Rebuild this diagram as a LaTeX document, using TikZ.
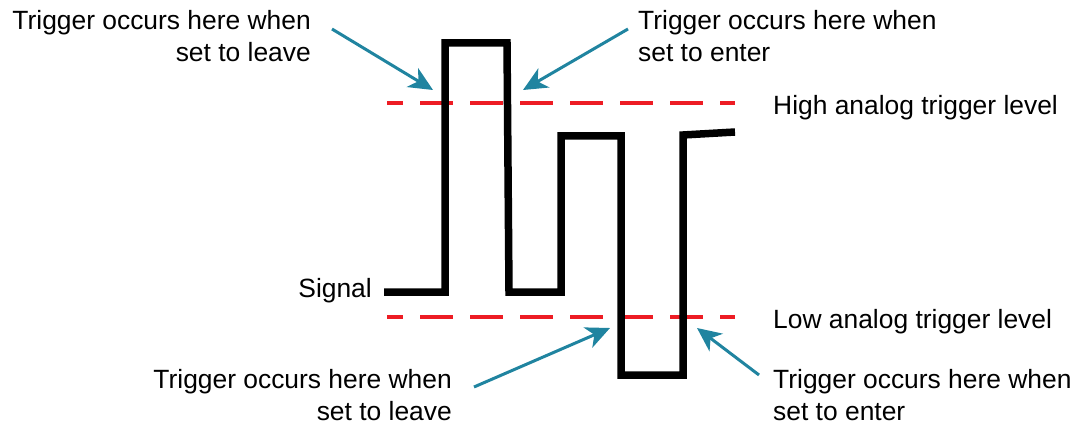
\documentclass[tikz,border=0pt]{standalone}
\usepackage{fontspec}
\setmainfont{Liberation Sans}
\usetikzlibrary{arrows.meta}
\definecolor{sigteal}{RGB}{32,132,160}
\definecolor{lvlred}{RGB}{237,28,36}
\begin{document}
\begin{tikzpicture}[x=1pt,y=-1pt,
  lbl/.style={inner sep=0pt,font=\fontsize{26.4}{32}\selectfont},
  level/.style={draw=lvlred,line width=4.5pt,dash pattern=on 33pt off 17pt,dash phase=17pt},
  signal/.style={draw=black,line width=7.5pt,line join=miter},
  pointer/.style={draw=sigteal,line width=3pt,-{Stealth[length=24pt,width=22pt,inset=7pt]}}]
\useasboundingbox (0,0) rectangle (1084,425);
% levels
\coordinate (hA) at (387,103); \coordinate (hB) at (735,103);
\coordinate (lA) at (387,317); \coordinate (lB) at (735,317);
\draw[level] (hA) -- (hB);
\draw[level] (lA) -- (lB);
% signal
\coordinate (s0) at (384,292);
\draw[signal] (s0) -- (445,292) -- (445,43) -- (507,43) -- (509,292) -- (561,292) -- (561,136) -- (621,136) -- (621,375) -- (683,375) -- (683,135) -- (735,132);
% labels
\node[lbl,anchor=base east,align=right] (tl) at (311,62) {Trigger occurs here when\\set to leave};
\node[lbl,anchor=base west,align=left] (tr) at (638,62) {Trigger occurs here when\\set to enter};
\node[lbl,anchor=base east,align=right] (bl) at (452,420) {Trigger occurs here when\\set to leave};
\node[lbl,anchor=base west,align=left] (br) at (773,420) {Trigger occurs here when\\set to enter};
\node[lbl,anchor=base west] (hi) at (773,115) {High analog trigger level};
\node[lbl,anchor=base west] (lo) at (773,328) {Low analog trigger level};
\node[lbl,anchor=base east] (sig) at (372,297) {Signal};
% pointers
\coordinate (p1s) at (332,29); \coordinate (p1e) at (433,90);
\coordinate (p2s) at (628,29); \coordinate (p2e) at (523,90);
\coordinate (p3s) at (474,387); \coordinate (p3e) at (610,328);
\coordinate (p4s) at (759,375); \coordinate (p4e) at (697,328);
\draw[pointer] (p1s) -- (p1e);
\draw[pointer] (p2s) -- (p2e);
\draw[pointer] (p3s) -- (p3e);
\draw[pointer] (p4s) -- (p4e);
\end{tikzpicture}
\end{document}
